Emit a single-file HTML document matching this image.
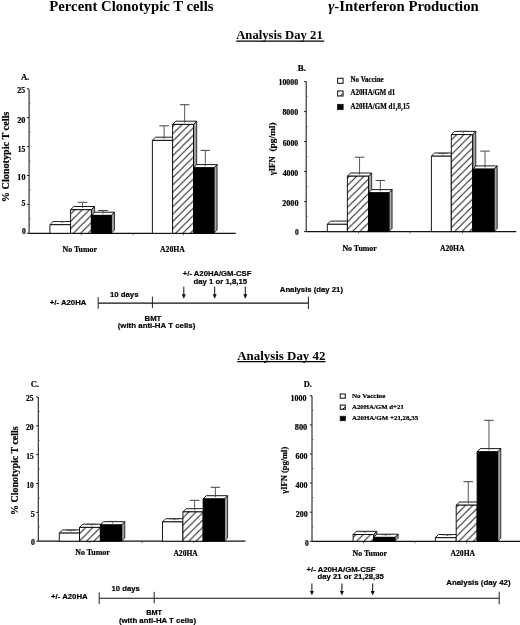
<!DOCTYPE html>
<html><head><meta charset="utf-8"><style>
html,body{margin:0;padding:0;background:#fff;}
svg{display:block;} svg{will-change:transform;filter:blur(0.25px);}
</style></head><body>
<svg width="520" height="625" viewBox="0 0 520 625">
<rect width="520" height="625" fill="#fff"/>
<defs>
<pattern id="hatch" patternUnits="userSpaceOnUse" width="7.3" height="7.3"><rect width="7.3" height="7.3" fill="#fff"/>
<path d="M-1,1 L1,-1 M0,7.3 L7.3,0 M6.3,8.3 L8.3,6.3" stroke="#111" stroke-width="0.95"/>
</pattern>
<pattern id="hatchL" patternUnits="userSpaceOnUse" width="4" height="4"><rect width="4" height="4" fill="#fff"/>
<path d="M-1,1 L1,-1 M0,4 L4,0 M3,5 L5,3" stroke="#222" stroke-width="0.8"/>
</pattern>
<linearGradient id="side" x1="0" x2="1" y1="0" y2="0">
<stop offset="0" stop-color="#7a7a7a"/><stop offset="0.5" stop-color="#a8a8a8"/><stop offset="1" stop-color="#8a8a8a"/>
</linearGradient>
</defs>
<text x="49.3" y="11" font-size="14.6" font-family='"Liberation Serif", serif' font-weight="bold" text-anchor="start" fill="#000" textLength="164.2" lengthAdjust="spacingAndGlyphs">Percent Clonotypic T cells</text>
<text x="328.2" y="10.6" font-size="14.6" font-family='"Liberation Serif", serif' font-weight="bold" text-anchor="start" fill="#000" textLength="150.6" lengthAdjust="spacingAndGlyphs"><tspan font-style="italic">γ</tspan>-Interferon Production</text>
<text x="236.2" y="39.0" font-size="12.6" font-family='"Liberation Serif", serif' font-weight="bold" text-anchor="start" fill="#000" textLength="86.6" lengthAdjust="spacingAndGlyphs">Analysis Day 21</text>
<line x1="236.2" y1="41.1" x2="324.2" y2="41.1" stroke="#000" stroke-width="1.3"/>
<text x="237.2" y="359.9" font-size="12.6" font-family='"Liberation Serif", serif' font-weight="bold" text-anchor="start" fill="#000" textLength="88.3" lengthAdjust="spacingAndGlyphs">Analysis Day 42</text>
<line x1="237.2" y1="361.6" x2="325.5" y2="361.6" stroke="#000" stroke-width="1.3"/>
<line x1="29.1" y1="233.3" x2="29.1" y2="89.2" stroke="#222" stroke-width="1.1"/>
<line x1="26.900000000000002" y1="88.80000000000001" x2="29.1" y2="88.80000000000001" stroke="#222" stroke-width="1"/>
<line x1="26.900000000000002" y1="117.7" x2="29.1" y2="117.7" stroke="#222" stroke-width="1"/>
<line x1="26.900000000000002" y1="146.60000000000002" x2="29.1" y2="146.60000000000002" stroke="#222" stroke-width="1"/>
<line x1="26.900000000000002" y1="175.5" x2="29.1" y2="175.5" stroke="#222" stroke-width="1"/>
<line x1="26.900000000000002" y1="204.4" x2="29.1" y2="204.4" stroke="#222" stroke-width="1"/>
<line x1="26.900000000000002" y1="233.3" x2="29.1" y2="233.3" stroke="#222" stroke-width="1"/>
<line x1="29.1" y1="103.25" x2="30.6" y2="103.25" stroke="#555" stroke-width="0.8"/>
<line x1="29.1" y1="132.15" x2="30.6" y2="132.15" stroke="#555" stroke-width="0.8"/>
<line x1="29.1" y1="161.05" x2="30.6" y2="161.05" stroke="#555" stroke-width="0.8"/>
<line x1="29.1" y1="189.95" x2="30.6" y2="189.95" stroke="#555" stroke-width="0.8"/>
<line x1="29.1" y1="218.85000000000002" x2="30.6" y2="218.85000000000002" stroke="#555" stroke-width="0.8"/>
<line x1="29.1" y1="233.3" x2="235.8" y2="233.3" stroke="#111" stroke-width="1.2"/>
<line x1="81.3" y1="233.3" x2="81.3" y2="235.3" stroke="#555" stroke-width="0.8"/>
<line x1="133.3" y1="233.3" x2="133.3" y2="235.3" stroke="#555" stroke-width="0.8"/>
<line x1="183.5" y1="233.3" x2="183.5" y2="235.3" stroke="#555" stroke-width="0.8"/>
<text x="17.35" y="93.25" font-size="7.2" font-family='"Liberation Serif", serif' font-weight="bold" text-anchor="start" fill="#000" textLength="7.7" lengthAdjust="spacingAndGlyphs" stroke="#000" stroke-width="0.2">25</text>
<text x="17.15" y="122.55" font-size="7.2" font-family='"Liberation Serif", serif' font-weight="bold" text-anchor="start" fill="#000" textLength="8.2" lengthAdjust="spacingAndGlyphs" stroke="#000" stroke-width="0.2">20</text>
<text x="17.65" y="151.85" font-size="7.2" font-family='"Liberation Serif", serif' font-weight="bold" text-anchor="start" fill="#000" textLength="7.6" lengthAdjust="spacingAndGlyphs" stroke="#000" stroke-width="0.2">15</text>
<text x="17.35" y="180.35" font-size="7.2" font-family='"Liberation Serif", serif' font-weight="bold" text-anchor="start" fill="#000" textLength="8.1" lengthAdjust="spacingAndGlyphs" stroke="#000" stroke-width="0.2">10</text>
<text x="21.55" y="205.85" font-size="7.2" font-family='"Liberation Serif", serif' font-weight="bold" text-anchor="start" fill="#000" textLength="3.9" lengthAdjust="spacingAndGlyphs" stroke="#000" stroke-width="0.2">5</text>
<text x="21.95" y="234.35" font-size="7.2" font-family='"Liberation Serif", serif' font-weight="bold" text-anchor="start" fill="#000" textLength="3.8" lengthAdjust="spacingAndGlyphs" stroke="#000" stroke-width="0.2">0</text>
<text x="20.9" y="79.5" font-size="8.8" font-family='"Liberation Serif", serif' font-weight="bold" text-anchor="start" fill="#000" textLength="8.4" lengthAdjust="spacingAndGlyphs" stroke="#000" stroke-width="0.2">A.</text>
<text transform="translate(9.1,202.2) rotate(-90)" font-size="9.8" font-family='"Liberation Serif", serif' font-weight="bold" textLength="90.5" lengthAdjust="spacingAndGlyphs" stroke="#000" stroke-width="0.2">% Clonotypic T cells</text>
<polygon points="70.60,224.70 73.80,221.50 73.80,230.10 70.60,233.30" fill="url(#side)" stroke="#111" stroke-width="0.8" stroke-linejoin="round"/>
<polygon points="49.90,224.70 53.10,221.50 73.80,221.50 70.60,224.70" fill="#fff" stroke="#000" stroke-width="0.9" stroke-linejoin="round"/>
<polygon points="49.90,224.70 70.60,224.70 70.60,233.30 49.90,233.30" fill="#fff" stroke="#000" stroke-width="0.9" stroke-linejoin="round"/>
<line x1="61.85" y1="223.1" x2="61.85" y2="221.6" stroke="#444" stroke-width="0.9"/>
<line x1="57.050000000000004" y1="221.6" x2="66.65" y2="221.6" stroke="#444" stroke-width="1.0"/>
<polygon points="91.40,209.70 94.60,206.50 94.60,230.10 91.40,233.30" fill="url(#side)" stroke="#111" stroke-width="0.8" stroke-linejoin="round"/>
<polygon points="70.60,209.70 73.80,206.50 94.60,206.50 91.40,209.70" fill="#fff" stroke="#000" stroke-width="0.9" stroke-linejoin="round"/>
<polygon points="70.60,209.70 91.40,209.70 91.40,233.30 70.60,233.30" fill="url(#hatch)" stroke="#000" stroke-width="0.9" stroke-linejoin="round"/>
<line x1="82.6" y1="208.1" x2="82.6" y2="202.3" stroke="#444" stroke-width="0.9"/>
<line x1="77.8" y1="202.3" x2="87.39999999999999" y2="202.3" stroke="#444" stroke-width="1.0"/>
<polygon points="111.30,215.40 114.50,212.20 114.50,230.10 111.30,233.30" fill="url(#side)" stroke="#111" stroke-width="0.8" stroke-linejoin="round"/>
<polygon points="91.40,215.40 94.60,212.20 114.50,212.20 111.30,215.40" fill="#fff" stroke="#000" stroke-width="0.9" stroke-linejoin="round"/>
<polygon points="91.40,215.40 111.30,215.40 111.30,233.30 91.40,233.30" fill="#000" stroke="#000" stroke-width="0.9" stroke-linejoin="round"/>
<line x1="102.94999999999999" y1="213.8" x2="102.94999999999999" y2="210.5" stroke="#444" stroke-width="0.9"/>
<line x1="98.14999999999999" y1="210.5" x2="107.74999999999999" y2="210.5" stroke="#444" stroke-width="1.0"/>
<polygon points="172.60,140.40 175.80,137.20 175.80,230.10 172.60,233.30" fill="url(#side)" stroke="#111" stroke-width="0.8" stroke-linejoin="round"/>
<polygon points="152.40,140.40 155.60,137.20 175.80,137.20 172.60,140.40" fill="#fff" stroke="#000" stroke-width="0.9" stroke-linejoin="round"/>
<polygon points="152.40,140.40 172.60,140.40 172.60,233.30 152.40,233.30" fill="#fff" stroke="#000" stroke-width="0.9" stroke-linejoin="round"/>
<line x1="164.1" y1="138.8" x2="164.1" y2="125.8" stroke="#444" stroke-width="0.9"/>
<line x1="159.29999999999998" y1="125.8" x2="168.9" y2="125.8" stroke="#444" stroke-width="1.0"/>
<polygon points="193.50,124.40 196.70,121.20 196.70,230.10 193.50,233.30" fill="url(#side)" stroke="#111" stroke-width="0.8" stroke-linejoin="round"/>
<polygon points="172.60,124.40 175.80,121.20 196.70,121.20 193.50,124.40" fill="#fff" stroke="#000" stroke-width="0.9" stroke-linejoin="round"/>
<polygon points="172.60,124.40 193.50,124.40 193.50,233.30 172.60,233.30" fill="url(#hatch)" stroke="#000" stroke-width="0.9" stroke-linejoin="round"/>
<line x1="184.65" y1="122.80000000000001" x2="184.65" y2="104.7" stroke="#444" stroke-width="0.9"/>
<line x1="179.85" y1="104.7" x2="189.45000000000002" y2="104.7" stroke="#444" stroke-width="1.0"/>
<polygon points="213.90,167.80 217.10,164.60 217.10,230.10 213.90,233.30" fill="url(#side)" stroke="#111" stroke-width="0.8" stroke-linejoin="round"/>
<polygon points="193.50,167.80 196.70,164.60 217.10,164.60 213.90,167.80" fill="#fff" stroke="#000" stroke-width="0.9" stroke-linejoin="round"/>
<polygon points="193.50,167.80 213.90,167.80 213.90,233.30 193.50,233.30" fill="#000" stroke="#000" stroke-width="0.9" stroke-linejoin="round"/>
<line x1="205.29999999999998" y1="166.20000000000002" x2="205.29999999999998" y2="150.4" stroke="#444" stroke-width="0.9"/>
<line x1="200.49999999999997" y1="150.4" x2="210.1" y2="150.4" stroke="#444" stroke-width="1.0"/>
<text x="62.6" y="251.8" font-size="8" font-family='"Liberation Serif", serif' font-weight="bold" text-anchor="start" fill="#000" textLength="34.4" lengthAdjust="spacingAndGlyphs" stroke="#000" stroke-width="0.2">No Tumor</text>
<text x="160.0" y="251.8" font-size="8" font-family='"Liberation Serif", serif' font-weight="bold" text-anchor="start" fill="#000" textLength="24.8" lengthAdjust="spacingAndGlyphs" stroke="#000" stroke-width="0.2">A20HA</text>
<line x1="306.2" y1="231.6" x2="306.2" y2="81.6" stroke="#222" stroke-width="1.1"/>
<line x1="304.0" y1="81.6" x2="306.2" y2="81.6" stroke="#222" stroke-width="1"/>
<line x1="304.0" y1="111.6" x2="306.2" y2="111.6" stroke="#222" stroke-width="1"/>
<line x1="304.0" y1="141.6" x2="306.2" y2="141.6" stroke="#222" stroke-width="1"/>
<line x1="304.0" y1="171.6" x2="306.2" y2="171.6" stroke="#222" stroke-width="1"/>
<line x1="304.0" y1="201.6" x2="306.2" y2="201.6" stroke="#222" stroke-width="1"/>
<line x1="304.0" y1="231.6" x2="306.2" y2="231.6" stroke="#222" stroke-width="1"/>
<line x1="306.2" y1="96.6" x2="307.7" y2="96.6" stroke="#555" stroke-width="0.8"/>
<line x1="306.2" y1="126.6" x2="307.7" y2="126.6" stroke="#555" stroke-width="0.8"/>
<line x1="306.2" y1="156.6" x2="307.7" y2="156.6" stroke="#555" stroke-width="0.8"/>
<line x1="306.2" y1="186.6" x2="307.7" y2="186.6" stroke="#555" stroke-width="0.8"/>
<line x1="306.2" y1="216.6" x2="307.7" y2="216.6" stroke="#555" stroke-width="0.8"/>
<line x1="306.2" y1="231.6" x2="516.2" y2="231.6" stroke="#111" stroke-width="1.2"/>
<line x1="358.5" y1="231.6" x2="358.5" y2="233.6" stroke="#555" stroke-width="0.8"/>
<line x1="410" y1="231.6" x2="410" y2="233.6" stroke="#555" stroke-width="0.8"/>
<line x1="462.5" y1="231.6" x2="462.5" y2="233.6" stroke="#555" stroke-width="0.8"/>
<text x="278.45" y="84.55" font-size="7.2" font-family='"Liberation Serif", serif' font-weight="bold" text-anchor="start" fill="#000" textLength="19.7" lengthAdjust="spacingAndGlyphs" stroke="#000" stroke-width="0.2">10000</text>
<text x="282.45" y="114.95" font-size="7.2" font-family='"Liberation Serif", serif' font-weight="bold" text-anchor="start" fill="#000" textLength="15.7" lengthAdjust="spacingAndGlyphs" stroke="#000" stroke-width="0.2">8000</text>
<text x="282.65" y="145.65" font-size="7.2" font-family='"Liberation Serif", serif' font-weight="bold" text-anchor="start" fill="#000" textLength="15.5" lengthAdjust="spacingAndGlyphs" stroke="#000" stroke-width="0.2">6000</text>
<text x="282.65" y="175.65" font-size="7.2" font-family='"Liberation Serif", serif' font-weight="bold" text-anchor="start" fill="#000" textLength="15.5" lengthAdjust="spacingAndGlyphs" stroke="#000" stroke-width="0.2">4000</text>
<text x="282.25" y="205.85" font-size="7.2" font-family='"Liberation Serif", serif' font-weight="bold" text-anchor="start" fill="#000" textLength="16.2" lengthAdjust="spacingAndGlyphs" stroke="#000" stroke-width="0.2">2000</text>
<text x="294.95" y="235.45" font-size="7.2" font-family='"Liberation Serif", serif' font-weight="bold" text-anchor="start" fill="#000" textLength="3.7" lengthAdjust="spacingAndGlyphs" stroke="#000" stroke-width="0.2">0</text>
<text x="297.7" y="71.1" font-size="8.8" font-family='"Liberation Serif", serif' font-weight="bold" text-anchor="start" fill="#000" textLength="8.2" lengthAdjust="spacingAndGlyphs" stroke="#000" stroke-width="0.2">B.</text>
<text transform="translate(274.8,175.3) rotate(-90)" font-size="8.2" font-family='"Liberation Serif", serif' font-weight="bold" textLength="18.9" lengthAdjust="spacingAndGlyphs" stroke="#000" stroke-width="0.2">γIFN</text>
<text transform="translate(274.8,151.6) rotate(-90)" font-size="8.2" font-family='"Liberation Serif", serif' font-weight="bold" textLength="29.2" lengthAdjust="spacingAndGlyphs" stroke="#000" stroke-width="0.2">(pg/ml)</text>
<polygon points="347.40,224.30 350.60,221.10 350.60,228.40 347.40,231.60" fill="url(#side)" stroke="#111" stroke-width="0.8" stroke-linejoin="round"/>
<polygon points="327.30,224.30 330.50,221.10 350.60,221.10 347.40,224.30" fill="#fff" stroke="#000" stroke-width="0.9" stroke-linejoin="round"/>
<polygon points="327.30,224.30 347.40,224.30 347.40,231.60 327.30,231.60" fill="#fff" stroke="#000" stroke-width="0.9" stroke-linejoin="round"/>
<polygon points="368.50,176.20 371.70,173.00 371.70,228.40 368.50,231.60" fill="url(#side)" stroke="#111" stroke-width="0.8" stroke-linejoin="round"/>
<polygon points="347.40,176.20 350.60,173.00 371.70,173.00 368.50,176.20" fill="#fff" stroke="#000" stroke-width="0.9" stroke-linejoin="round"/>
<polygon points="347.40,176.20 368.50,176.20 368.50,231.60 347.40,231.60" fill="url(#hatch)" stroke="#000" stroke-width="0.9" stroke-linejoin="round"/>
<line x1="359.55" y1="174.6" x2="359.55" y2="157.2" stroke="#444" stroke-width="0.9"/>
<line x1="354.75" y1="157.2" x2="364.35" y2="157.2" stroke="#444" stroke-width="1.0"/>
<polygon points="388.90,192.80 392.10,189.60 392.10,228.40 388.90,231.60" fill="url(#side)" stroke="#111" stroke-width="0.8" stroke-linejoin="round"/>
<polygon points="368.50,192.80 371.70,189.60 392.10,189.60 388.90,192.80" fill="#fff" stroke="#000" stroke-width="0.9" stroke-linejoin="round"/>
<polygon points="368.50,192.80 388.90,192.80 388.90,231.60 368.50,231.60" fill="#000" stroke="#000" stroke-width="0.9" stroke-linejoin="round"/>
<line x1="380.3" y1="191.20000000000002" x2="380.3" y2="180.5" stroke="#444" stroke-width="0.9"/>
<line x1="375.5" y1="180.5" x2="385.1" y2="180.5" stroke="#444" stroke-width="1.0"/>
<polygon points="451.30,156.20 454.50,153.00 454.50,228.40 451.30,231.60" fill="url(#side)" stroke="#111" stroke-width="0.8" stroke-linejoin="round"/>
<polygon points="431.40,156.20 434.60,153.00 454.50,153.00 451.30,156.20" fill="#fff" stroke="#000" stroke-width="0.9" stroke-linejoin="round"/>
<polygon points="431.40,156.20 451.30,156.20 451.30,231.60 431.40,231.60" fill="#fff" stroke="#000" stroke-width="0.9" stroke-linejoin="round"/>
<line x1="442.95000000000005" y1="154.6" x2="442.95000000000005" y2="153.3" stroke="#444" stroke-width="0.9"/>
<line x1="438.15000000000003" y1="153.3" x2="447.75000000000006" y2="153.3" stroke="#444" stroke-width="1.0"/>
<polygon points="472.60,134.60 475.80,131.40 475.80,228.40 472.60,231.60" fill="url(#side)" stroke="#111" stroke-width="0.8" stroke-linejoin="round"/>
<polygon points="451.30,134.60 454.50,131.40 475.80,131.40 472.60,134.60" fill="#fff" stroke="#000" stroke-width="0.9" stroke-linejoin="round"/>
<polygon points="451.30,134.60 472.60,134.60 472.60,231.60 451.30,231.60" fill="url(#hatch)" stroke="#000" stroke-width="0.9" stroke-linejoin="round"/>
<line x1="463.55000000000007" y1="133.0" x2="463.55000000000007" y2="131.3" stroke="#444" stroke-width="0.9"/>
<line x1="458.75000000000006" y1="131.3" x2="468.3500000000001" y2="131.3" stroke="#444" stroke-width="1.0"/>
<polygon points="494.00,169.10 497.20,165.90 497.20,228.40 494.00,231.60" fill="url(#side)" stroke="#111" stroke-width="0.8" stroke-linejoin="round"/>
<polygon points="472.80,169.10 476.00,165.90 497.20,165.90 494.00,169.10" fill="#fff" stroke="#000" stroke-width="0.9" stroke-linejoin="round"/>
<polygon points="472.80,169.10 494.00,169.10 494.00,231.60 472.80,231.60" fill="#000" stroke="#000" stroke-width="0.9" stroke-linejoin="round"/>
<line x1="485.0" y1="167.5" x2="485.0" y2="151.1" stroke="#444" stroke-width="0.9"/>
<line x1="480.2" y1="151.1" x2="489.8" y2="151.1" stroke="#444" stroke-width="1.0"/>
<text x="342.4" y="250.6" font-size="8" font-family='"Liberation Serif", serif' font-weight="bold" text-anchor="start" fill="#000" textLength="34.4" lengthAdjust="spacingAndGlyphs" stroke="#000" stroke-width="0.2">No Tumor</text>
<text x="440.0" y="250.6" font-size="8" font-family='"Liberation Serif", serif' font-weight="bold" text-anchor="start" fill="#000" textLength="24.5" lengthAdjust="spacingAndGlyphs" stroke="#000" stroke-width="0.2">A20HA</text>
<rect x="337.6" y="78.3" width="5.5" height="5.0" fill="#fff" stroke="#222" stroke-width="1.1"/>
<text x="350.5" y="82.3" font-size="7.3" font-family='"Liberation Serif", serif' font-weight="bold" text-anchor="start" fill="#000" textLength="33.2" lengthAdjust="spacingAndGlyphs" stroke="#000" stroke-width="0.2">No Vaccine</text>
<rect x="337.6" y="91.0" width="5.5" height="5.0" fill="#fff" stroke="#222" stroke-width="1.1"/>
<line x1="340.07500000000005" y1="96.0" x2="343.1" y2="93.25" stroke="#111" stroke-width="1"/>
<text x="350.5" y="95.0" font-size="7.3" font-family='"Liberation Serif", serif' font-weight="bold" text-anchor="start" fill="#000" textLength="44.8" lengthAdjust="spacingAndGlyphs" stroke="#000" stroke-width="0.2">A20HA/GM d1</text>
<rect x="337.6" y="104.5" width="5.5" height="5.0" fill="#000" stroke="#222" stroke-width="1.1"/>
<text x="350.5" y="108.6" font-size="7.3" font-family='"Liberation Serif", serif' font-weight="bold" text-anchor="start" fill="#000" textLength="59.2" lengthAdjust="spacingAndGlyphs" stroke="#000" stroke-width="0.2">A20HA/GM d1,8,15</text>
<line x1="98.2" y1="303.1" x2="308.4" y2="303.1" stroke="#111" stroke-width="1.1"/>
<line x1="98.2" y1="297.1" x2="98.2" y2="308.8" stroke="#222" stroke-width="1.0"/>
<line x1="152.4" y1="296.6" x2="152.4" y2="308.1" stroke="#222" stroke-width="1.0"/>
<line x1="308.4" y1="296.6" x2="308.4" y2="309.1" stroke="#222" stroke-width="1.0"/>
<line x1="183.8" y1="286.6" x2="183.8" y2="295.7" stroke="#111" stroke-width="1.0"/>
<polygon points="181.8,294.2 185.8,294.2 183.8,298.7" fill="#111"/>
<line x1="214.7" y1="286.6" x2="214.7" y2="295.7" stroke="#111" stroke-width="1.0"/>
<polygon points="212.7,294.2 216.7,294.2 214.7,298.7" fill="#111"/>
<line x1="245.3" y1="286.6" x2="245.3" y2="295.7" stroke="#111" stroke-width="1.0"/>
<polygon points="243.3,294.2 247.3,294.2 245.3,298.7" fill="#111"/>
<text x="49.8" y="305.3" font-size="7.9" font-family='"Liberation Sans", sans-serif' font-weight="bold" text-anchor="start" fill="#000" textLength="36.6" lengthAdjust="spacingAndGlyphs" stroke="#000" stroke-width="0.2">+/- A20HA</text>
<text x="109.9" y="296.8" font-size="7.9" font-family='"Liberation Sans", sans-serif' font-weight="bold" text-anchor="start" fill="#000" textLength="28.6" lengthAdjust="spacingAndGlyphs" stroke="#000" stroke-width="0.2">10 days</text>
<text x="144.6" y="320.6" font-size="7.9" font-family='"Liberation Sans", sans-serif' font-weight="bold" text-anchor="start" fill="#000" textLength="16.6" lengthAdjust="spacingAndGlyphs" stroke="#000" stroke-width="0.2">BMT</text>
<text x="117.7" y="328.4" font-size="7.9" font-family='"Liberation Sans", sans-serif' font-weight="bold" text-anchor="start" fill="#000" textLength="77.6" lengthAdjust="spacingAndGlyphs" stroke="#000" stroke-width="0.2">(with anti-HA T cells)</text>
<text x="182.8" y="275.8" font-size="7.9" font-family='"Liberation Sans", sans-serif' font-weight="bold" text-anchor="start" fill="#000" textLength="68.6" lengthAdjust="spacingAndGlyphs" stroke="#000" stroke-width="0.2">+/- A20HA/GM-CSF</text>
<text x="193.5" y="283.7" font-size="7.9" font-family='"Liberation Sans", sans-serif' font-weight="bold" text-anchor="start" fill="#000" textLength="53.6" lengthAdjust="spacingAndGlyphs" stroke="#000" stroke-width="0.2">day 1 or 1,8,15</text>
<text x="279.8" y="292.1" font-size="7.9" font-family='"Liberation Sans", sans-serif' font-weight="bold" text-anchor="start" fill="#000" textLength="63.2" lengthAdjust="spacingAndGlyphs" stroke="#000" stroke-width="0.2">Analysis (day 21)</text>
<line x1="38.3" y1="541.2" x2="38.3" y2="397.0" stroke="#222" stroke-width="1.1"/>
<line x1="36.099999999999994" y1="397.00000000000006" x2="38.3" y2="397.00000000000006" stroke="#222" stroke-width="1"/>
<line x1="36.099999999999994" y1="425.84000000000003" x2="38.3" y2="425.84000000000003" stroke="#222" stroke-width="1"/>
<line x1="36.099999999999994" y1="454.68000000000006" x2="38.3" y2="454.68000000000006" stroke="#222" stroke-width="1"/>
<line x1="36.099999999999994" y1="483.52000000000004" x2="38.3" y2="483.52000000000004" stroke="#222" stroke-width="1"/>
<line x1="36.099999999999994" y1="512.36" x2="38.3" y2="512.36" stroke="#222" stroke-width="1"/>
<line x1="36.099999999999994" y1="541.2" x2="38.3" y2="541.2" stroke="#222" stroke-width="1"/>
<line x1="38.3" y1="411.4200000000001" x2="39.8" y2="411.4200000000001" stroke="#555" stroke-width="0.8"/>
<line x1="38.3" y1="440.26000000000005" x2="39.8" y2="440.26000000000005" stroke="#555" stroke-width="0.8"/>
<line x1="38.3" y1="469.1" x2="39.8" y2="469.1" stroke="#555" stroke-width="0.8"/>
<line x1="38.3" y1="497.94000000000005" x2="39.8" y2="497.94000000000005" stroke="#555" stroke-width="0.8"/>
<line x1="38.3" y1="526.78" x2="39.8" y2="526.78" stroke="#555" stroke-width="0.8"/>
<line x1="38.3" y1="541.2" x2="245.5" y2="541.2" stroke="#111" stroke-width="1.2"/>
<line x1="89.6" y1="541.2" x2="89.6" y2="543.2" stroke="#555" stroke-width="0.8"/>
<line x1="142" y1="541.2" x2="142" y2="543.2" stroke="#555" stroke-width="0.8"/>
<line x1="193.5" y1="541.2" x2="193.5" y2="543.2" stroke="#555" stroke-width="0.8"/>
<text x="25.95" y="401.15" font-size="7.2" font-family='"Liberation Serif", serif' font-weight="bold" text-anchor="start" fill="#000" textLength="7.6" lengthAdjust="spacingAndGlyphs" stroke="#000" stroke-width="0.2">25</text>
<text x="25.95" y="430.35" font-size="7.2" font-family='"Liberation Serif", serif' font-weight="bold" text-anchor="start" fill="#000" textLength="7.7" lengthAdjust="spacingAndGlyphs" stroke="#000" stroke-width="0.2">20</text>
<text x="26.35" y="459.25" font-size="7.2" font-family='"Liberation Serif", serif' font-weight="bold" text-anchor="start" fill="#000" textLength="7.3" lengthAdjust="spacingAndGlyphs" stroke="#000" stroke-width="0.2">15</text>
<text x="26.45" y="487.55" font-size="7.2" font-family='"Liberation Serif", serif' font-weight="bold" text-anchor="start" fill="#000" textLength="7.3" lengthAdjust="spacingAndGlyphs" stroke="#000" stroke-width="0.2">10</text>
<text x="30.65" y="516.85" font-size="7.2" font-family='"Liberation Serif", serif' font-weight="bold" text-anchor="start" fill="#000" textLength="4.0" lengthAdjust="spacingAndGlyphs" stroke="#000" stroke-width="0.2">5</text>
<text x="31.05" y="545.45" font-size="7.2" font-family='"Liberation Serif", serif' font-weight="bold" text-anchor="start" fill="#000" textLength="3.9" lengthAdjust="spacingAndGlyphs" stroke="#000" stroke-width="0.2">0</text>
<text x="30.7" y="386.9" font-size="8.8" font-family='"Liberation Serif", serif' font-weight="bold" text-anchor="start" fill="#000" textLength="8.4" lengthAdjust="spacingAndGlyphs" stroke="#000" stroke-width="0.2">C.</text>
<text transform="translate(18.2,514.9) rotate(-90)" font-size="9.6" font-family='"Liberation Serif", serif' font-weight="bold" textLength="88.6" lengthAdjust="spacingAndGlyphs" stroke="#000" stroke-width="0.2">% Clonotypic T cells</text>
<polygon points="79.50,533.10 82.70,529.90 82.70,538.00 79.50,541.20" fill="url(#side)" stroke="#111" stroke-width="0.8" stroke-linejoin="round"/>
<polygon points="59.30,533.10 62.50,529.90 82.70,529.90 79.50,533.10" fill="#fff" stroke="#000" stroke-width="0.9" stroke-linejoin="round"/>
<polygon points="59.30,533.10 79.50,533.10 79.50,541.20 59.30,541.20" fill="#fff" stroke="#000" stroke-width="0.9" stroke-linejoin="round"/>
<line x1="71.0" y1="531.5" x2="71.0" y2="530.2" stroke="#444" stroke-width="0.9"/>
<line x1="66.2" y1="530.2" x2="75.8" y2="530.2" stroke="#444" stroke-width="1.0"/>
<polygon points="100.40,527.40 103.60,524.20 103.60,538.00 100.40,541.20" fill="url(#side)" stroke="#111" stroke-width="0.8" stroke-linejoin="round"/>
<polygon points="79.50,527.40 82.70,524.20 103.60,524.20 100.40,527.40" fill="#fff" stroke="#000" stroke-width="0.9" stroke-linejoin="round"/>
<polygon points="79.50,527.40 100.40,527.40 100.40,541.20 79.50,541.20" fill="url(#hatch)" stroke="#000" stroke-width="0.9" stroke-linejoin="round"/>
<line x1="91.55" y1="525.8" x2="91.55" y2="524.3" stroke="#444" stroke-width="0.9"/>
<line x1="86.75" y1="524.3" x2="96.35" y2="524.3" stroke="#444" stroke-width="1.0"/>
<polygon points="121.60,524.90 124.80,521.70 124.80,538.00 121.60,541.20" fill="url(#side)" stroke="#111" stroke-width="0.8" stroke-linejoin="round"/>
<polygon points="100.40,524.90 103.60,521.70 124.80,521.70 121.60,524.90" fill="#fff" stroke="#000" stroke-width="0.9" stroke-linejoin="round"/>
<polygon points="100.40,524.90 121.60,524.90 121.60,541.20 100.40,541.20" fill="#000" stroke="#000" stroke-width="0.9" stroke-linejoin="round"/>
<line x1="112.6" y1="523.3" x2="112.6" y2="521.4" stroke="#444" stroke-width="0.9"/>
<line x1="107.8" y1="521.4" x2="117.39999999999999" y2="521.4" stroke="#444" stroke-width="1.0"/>
<polygon points="182.90,521.90 186.10,518.70 186.10,538.00 182.90,541.20" fill="url(#side)" stroke="#111" stroke-width="0.8" stroke-linejoin="round"/>
<polygon points="162.50,521.90 165.70,518.70 186.10,518.70 182.90,521.90" fill="#fff" stroke="#000" stroke-width="0.9" stroke-linejoin="round"/>
<polygon points="162.50,521.90 182.90,521.90 182.90,541.20 162.50,541.20" fill="#fff" stroke="#000" stroke-width="0.9" stroke-linejoin="round"/>
<line x1="174.29999999999998" y1="520.3" x2="174.29999999999998" y2="518.8" stroke="#444" stroke-width="0.9"/>
<line x1="169.49999999999997" y1="518.8" x2="179.1" y2="518.8" stroke="#444" stroke-width="1.0"/>
<polygon points="203.10,511.90 206.30,508.70 206.30,538.00 203.10,541.20" fill="url(#side)" stroke="#111" stroke-width="0.8" stroke-linejoin="round"/>
<polygon points="182.90,511.90 186.10,508.70 206.30,508.70 203.10,511.90" fill="#fff" stroke="#000" stroke-width="0.9" stroke-linejoin="round"/>
<polygon points="182.90,511.90 203.10,511.90 203.10,541.20 182.90,541.20" fill="url(#hatch)" stroke="#000" stroke-width="0.9" stroke-linejoin="round"/>
<line x1="194.6" y1="510.29999999999995" x2="194.6" y2="500.3" stroke="#444" stroke-width="0.9"/>
<line x1="189.79999999999998" y1="500.3" x2="199.4" y2="500.3" stroke="#444" stroke-width="1.0"/>
<polygon points="224.40,498.90 227.60,495.70 227.60,538.00 224.40,541.20" fill="url(#side)" stroke="#111" stroke-width="0.8" stroke-linejoin="round"/>
<polygon points="203.10,498.90 206.30,495.70 227.60,495.70 224.40,498.90" fill="#fff" stroke="#000" stroke-width="0.9" stroke-linejoin="round"/>
<polygon points="203.10,498.90 224.40,498.90 224.40,541.20 203.10,541.20" fill="#000" stroke="#000" stroke-width="0.9" stroke-linejoin="round"/>
<line x1="215.35" y1="497.29999999999995" x2="215.35" y2="487.3" stroke="#444" stroke-width="0.9"/>
<line x1="210.54999999999998" y1="487.3" x2="220.15" y2="487.3" stroke="#444" stroke-width="1.0"/>
<text x="75.2" y="555.4" font-size="8" font-family='"Liberation Serif", serif' font-weight="bold" text-anchor="start" fill="#000" textLength="34.6" lengthAdjust="spacingAndGlyphs" stroke="#000" stroke-width="0.2">No Tumor</text>
<text x="173.4" y="555.6" font-size="8" font-family='"Liberation Serif", serif' font-weight="bold" text-anchor="start" fill="#000" textLength="24.4" lengthAdjust="spacingAndGlyphs" stroke="#000" stroke-width="0.2">A20HA</text>
<line x1="312.0" y1="541.3" x2="312.0" y2="395.8" stroke="#222" stroke-width="1.1"/>
<line x1="309.8" y1="395.8" x2="312.0" y2="395.8" stroke="#222" stroke-width="1"/>
<line x1="309.8" y1="424.9" x2="312.0" y2="424.9" stroke="#222" stroke-width="1"/>
<line x1="309.8" y1="454.0" x2="312.0" y2="454.0" stroke="#222" stroke-width="1"/>
<line x1="309.8" y1="483.09999999999997" x2="312.0" y2="483.09999999999997" stroke="#222" stroke-width="1"/>
<line x1="309.8" y1="512.1999999999999" x2="312.0" y2="512.1999999999999" stroke="#222" stroke-width="1"/>
<line x1="309.8" y1="541.3" x2="312.0" y2="541.3" stroke="#222" stroke-width="1"/>
<line x1="312.0" y1="410.35" x2="313.5" y2="410.35" stroke="#555" stroke-width="0.8"/>
<line x1="312.0" y1="439.45" x2="313.5" y2="439.45" stroke="#555" stroke-width="0.8"/>
<line x1="312.0" y1="468.54999999999995" x2="313.5" y2="468.54999999999995" stroke="#555" stroke-width="0.8"/>
<line x1="312.0" y1="497.65" x2="313.5" y2="497.65" stroke="#555" stroke-width="0.8"/>
<line x1="312.0" y1="526.75" x2="313.5" y2="526.75" stroke="#555" stroke-width="0.8"/>
<line x1="312.0" y1="541.3" x2="520" y2="541.3" stroke="#111" stroke-width="1.2"/>
<line x1="363.5" y1="541.3" x2="363.5" y2="543.3" stroke="#555" stroke-width="0.8"/>
<line x1="415" y1="541.3" x2="415" y2="543.3" stroke="#555" stroke-width="0.8"/>
<line x1="466.5" y1="541.3" x2="466.5" y2="543.3" stroke="#555" stroke-width="0.8"/>
<text x="290.55" y="401.05" font-size="7.2" font-family='"Liberation Serif", serif' font-weight="bold" text-anchor="start" fill="#000" textLength="15.9" lengthAdjust="spacingAndGlyphs" stroke="#000" stroke-width="0.2">1000</text>
<text x="294.75" y="430.35" font-size="7.2" font-family='"Liberation Serif", serif' font-weight="bold" text-anchor="start" fill="#000" textLength="12.5" lengthAdjust="spacingAndGlyphs" stroke="#000" stroke-width="0.2">800</text>
<text x="295.45" y="459.25" font-size="7.2" font-family='"Liberation Serif", serif' font-weight="bold" text-anchor="start" fill="#000" textLength="12.0" lengthAdjust="spacingAndGlyphs" stroke="#000" stroke-width="0.2">600</text>
<text x="295.45" y="487.55" font-size="7.2" font-family='"Liberation Serif", serif' font-weight="bold" text-anchor="start" fill="#000" textLength="12.0" lengthAdjust="spacingAndGlyphs" stroke="#000" stroke-width="0.2">400</text>
<text x="295.75" y="516.75" font-size="7.2" font-family='"Liberation Serif", serif' font-weight="bold" text-anchor="start" fill="#000" textLength="12.0" lengthAdjust="spacingAndGlyphs" stroke="#000" stroke-width="0.2">200</text>
<text x="305.05" y="545.75" font-size="7.2" font-family='"Liberation Serif", serif' font-weight="bold" text-anchor="start" fill="#000" textLength="3.7" lengthAdjust="spacingAndGlyphs" stroke="#000" stroke-width="0.2">0</text>
<text x="303.7" y="386.5" font-size="8.8" font-family='"Liberation Serif", serif' font-weight="bold" text-anchor="start" fill="#000" textLength="8.2" lengthAdjust="spacingAndGlyphs" stroke="#000" stroke-width="0.2">D.</text>
<text transform="translate(286.8,493.8) rotate(-90)" font-size="8" font-family='"Liberation Serif", serif' font-weight="bold" textLength="47.1" lengthAdjust="spacingAndGlyphs" stroke="#000" stroke-width="0.2">γIFN (pg/ml)</text>
<polygon points="373.60,534.50 376.80,531.30 376.80,538.10 373.60,541.30" fill="url(#side)" stroke="#111" stroke-width="0.8" stroke-linejoin="round"/>
<polygon points="353.10,534.50 356.30,531.30 376.80,531.30 373.60,534.50" fill="#fff" stroke="#000" stroke-width="0.9" stroke-linejoin="round"/>
<polygon points="353.10,534.50 373.60,534.50 373.60,541.30 353.10,541.30" fill="url(#hatch)" stroke="#000" stroke-width="0.9" stroke-linejoin="round"/>
<line x1="364.95000000000005" y1="532.9" x2="364.95000000000005" y2="531.6" stroke="#444" stroke-width="0.9"/>
<line x1="360.15000000000003" y1="531.6" x2="369.75000000000006" y2="531.6" stroke="#444" stroke-width="1.0"/>
<polygon points="394.90,537.40 398.10,534.20 398.10,538.10 394.90,541.30" fill="url(#side)" stroke="#111" stroke-width="0.8" stroke-linejoin="round"/>
<polygon points="373.60,537.40 376.80,534.20 398.10,534.20 394.90,537.40" fill="#fff" stroke="#000" stroke-width="0.9" stroke-linejoin="round"/>
<polygon points="373.60,537.40 394.90,537.40 394.90,541.30 373.60,541.30" fill="#000" stroke="#000" stroke-width="0.9" stroke-linejoin="round"/>
<line x1="385.85" y1="535.8" x2="385.85" y2="534.6" stroke="#444" stroke-width="0.9"/>
<line x1="381.05" y1="534.6" x2="390.65000000000003" y2="534.6" stroke="#444" stroke-width="1.0"/>
<polygon points="456.20,537.70 459.40,534.50 459.40,538.10 456.20,541.30" fill="url(#side)" stroke="#111" stroke-width="0.8" stroke-linejoin="round"/>
<polygon points="435.30,537.70 438.50,534.50 459.40,534.50 456.20,537.70" fill="#fff" stroke="#000" stroke-width="0.9" stroke-linejoin="round"/>
<polygon points="435.30,537.70 456.20,537.70 456.20,541.30 435.30,541.30" fill="#fff" stroke="#000" stroke-width="0.9" stroke-linejoin="round"/>
<line x1="447.35" y1="536.1" x2="447.35" y2="534.8" stroke="#444" stroke-width="0.9"/>
<line x1="442.55" y1="534.8" x2="452.15000000000003" y2="534.8" stroke="#444" stroke-width="1.0"/>
<polygon points="477.10,505.20 480.30,502.00 480.30,538.10 477.10,541.30" fill="url(#side)" stroke="#111" stroke-width="0.8" stroke-linejoin="round"/>
<polygon points="456.20,505.20 459.40,502.00 480.30,502.00 477.10,505.20" fill="#fff" stroke="#000" stroke-width="0.9" stroke-linejoin="round"/>
<polygon points="456.20,505.20 477.10,505.20 477.10,541.30 456.20,541.30" fill="url(#hatch)" stroke="#000" stroke-width="0.9" stroke-linejoin="round"/>
<line x1="468.25" y1="503.59999999999997" x2="468.25" y2="481.7" stroke="#444" stroke-width="0.9"/>
<line x1="463.45" y1="481.7" x2="473.05" y2="481.7" stroke="#444" stroke-width="1.0"/>
<polygon points="497.60,451.80 500.80,448.60 500.80,538.10 497.60,541.30" fill="url(#side)" stroke="#111" stroke-width="0.8" stroke-linejoin="round"/>
<polygon points="477.10,451.80 480.30,448.60 500.80,448.60 497.60,451.80" fill="#fff" stroke="#000" stroke-width="0.9" stroke-linejoin="round"/>
<polygon points="477.10,451.80 497.60,451.80 497.60,541.30 477.10,541.30" fill="#000" stroke="#000" stroke-width="0.9" stroke-linejoin="round"/>
<line x1="488.95000000000005" y1="450.2" x2="488.95000000000005" y2="420.3" stroke="#444" stroke-width="0.9"/>
<line x1="484.15000000000003" y1="420.3" x2="493.75000000000006" y2="420.3" stroke="#444" stroke-width="1.0"/>
<text x="352.6" y="555.9" font-size="8" font-family='"Liberation Serif", serif' font-weight="bold" text-anchor="start" fill="#000" textLength="34.4" lengthAdjust="spacingAndGlyphs" stroke="#000" stroke-width="0.2">No Tumor</text>
<text x="450.5" y="555.9" font-size="8" font-family='"Liberation Serif", serif' font-weight="bold" text-anchor="start" fill="#000" textLength="24.6" lengthAdjust="spacingAndGlyphs" stroke="#000" stroke-width="0.2">A20HA</text>
<rect x="340.3" y="394.0" width="5.0" height="4.2" fill="#fff" stroke="#222" stroke-width="1.1"/>
<text x="352.0" y="398.2" font-size="7.1" font-family='"Liberation Serif", serif' font-weight="bold" text-anchor="start" fill="#000" textLength="33.4" lengthAdjust="spacingAndGlyphs" stroke="#000" stroke-width="0.2">No Vaccine</text>
<rect x="340.3" y="405.1" width="5.0" height="4.2" fill="#fff" stroke="#222" stroke-width="1.1"/>
<line x1="342.55" y1="409.3" x2="345.3" y2="406.99" stroke="#111" stroke-width="1"/>
<text x="352.0" y="409.1" font-size="7.1" font-family='"Liberation Serif", serif' font-weight="bold" text-anchor="start" fill="#000" textLength="51.8" lengthAdjust="spacingAndGlyphs" stroke="#000" stroke-width="0.2">A20HA/GM d+21</text>
<rect x="340.3" y="416.4" width="5.0" height="4.2" fill="#000" stroke="#222" stroke-width="1.1"/>
<text x="352.0" y="420.4" font-size="7.1" font-family='"Liberation Serif", serif' font-weight="bold" text-anchor="start" fill="#000" textLength="66.2" lengthAdjust="spacingAndGlyphs" stroke="#000" stroke-width="0.2">A20HA/GM +21,28,35</text>
<line x1="99.2" y1="598.3" x2="499.2" y2="598.3" stroke="#111" stroke-width="1.1"/>
<line x1="99.2" y1="592.3" x2="99.2" y2="604.0" stroke="#222" stroke-width="1.0"/>
<line x1="154.2" y1="591.8" x2="154.2" y2="603.3" stroke="#222" stroke-width="1.0"/>
<line x1="499.2" y1="591.8" x2="499.2" y2="604.3" stroke="#222" stroke-width="1.0"/>
<line x1="311.9" y1="583.5" x2="311.9" y2="592.6" stroke="#111" stroke-width="1.0"/>
<polygon points="309.9,591.1 313.9,591.1 311.9,595.6" fill="#111"/>
<line x1="341.9" y1="583.5" x2="341.9" y2="592.6" stroke="#111" stroke-width="1.0"/>
<polygon points="339.9,591.1 343.9,591.1 341.9,595.6" fill="#111"/>
<line x1="372.7" y1="583.5" x2="372.7" y2="592.6" stroke="#111" stroke-width="1.0"/>
<polygon points="370.7,591.1 374.7,591.1 372.7,595.6" fill="#111"/>
<text x="51.0" y="599.2" font-size="7.9" font-family='"Liberation Sans", sans-serif' font-weight="bold" text-anchor="start" fill="#000" textLength="36.6" lengthAdjust="spacingAndGlyphs" stroke="#000" stroke-width="0.2">+/- A20HA</text>
<text x="111.6" y="590.9" font-size="7.9" font-family='"Liberation Sans", sans-serif' font-weight="bold" text-anchor="start" fill="#000" textLength="28.2" lengthAdjust="spacingAndGlyphs" stroke="#000" stroke-width="0.2">10 days</text>
<text x="146.2" y="614.7" font-size="7.9" font-family='"Liberation Sans", sans-serif' font-weight="bold" text-anchor="start" fill="#000" textLength="15.8" lengthAdjust="spacingAndGlyphs" stroke="#000" stroke-width="0.2">BMT</text>
<text x="118.9" y="622.5" font-size="7.9" font-family='"Liberation Sans", sans-serif' font-weight="bold" text-anchor="start" fill="#000" textLength="77.2" lengthAdjust="spacingAndGlyphs" stroke="#000" stroke-width="0.2">(with anti-HA T cells)</text>
<text x="306.6" y="571.5" font-size="7.9" font-family='"Liberation Sans", sans-serif' font-weight="bold" text-anchor="start" fill="#000" textLength="69" lengthAdjust="spacingAndGlyphs" stroke="#000" stroke-width="0.2">+/- A20HA/GM-CSF</text>
<text x="317.6" y="579.2" font-size="7.9" font-family='"Liberation Sans", sans-serif' font-weight="bold" text-anchor="start" fill="#000" textLength="66.2" lengthAdjust="spacingAndGlyphs" stroke="#000" stroke-width="0.2">day 21 or 21,28,35</text>
<text x="446.2" y="584.7" font-size="7.9" font-family='"Liberation Sans", sans-serif' font-weight="bold" text-anchor="start" fill="#000" textLength="64.4" lengthAdjust="spacingAndGlyphs" stroke="#000" stroke-width="0.2">Analysis (day 42)</text>
</svg>
</body></html>
